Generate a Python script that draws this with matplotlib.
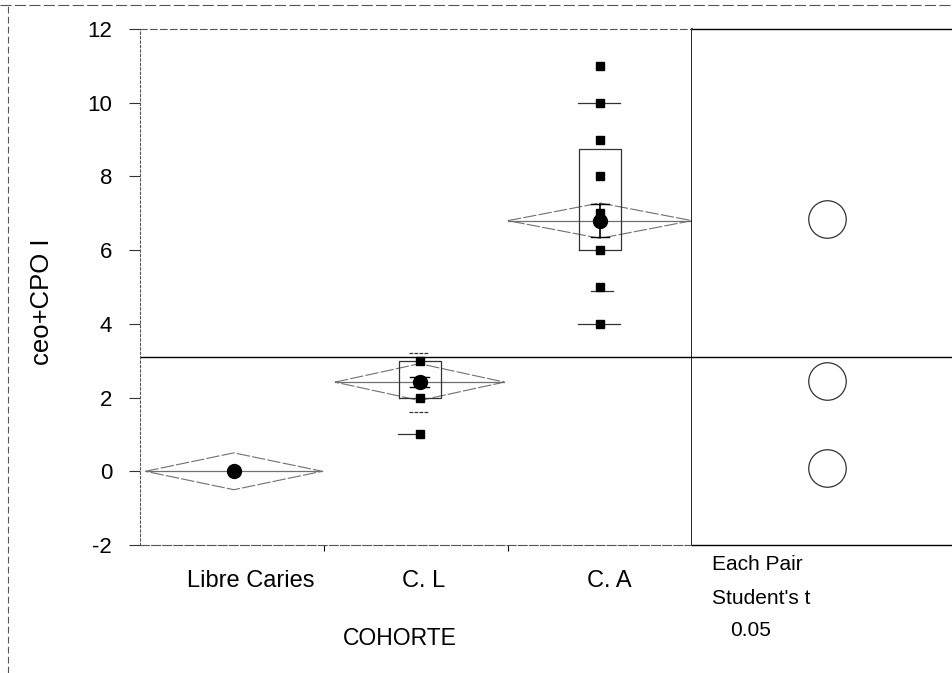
import matplotlib
matplotlib.use("Agg")
import matplotlib.pyplot as plt
from matplotlib.lines import Line2D

plt.rcParams['font.family'] = ['Liberation Sans', 'DejaVu Sans']

# ---- data ----
groups = ["Libre Caries", "C. L", "C. A"]
group_left = [0.03, 1.06, 2.0]      # diamond extents (group width ~ n)
group_right = [0.99, 1.98, 3.0]
means = [0.0, 2.42, 6.8]
ci_half = [0.5, 0.5, 0.48]
se = [0.0, 0.13, 0.45]
sd = [0.0, 0.8, 0.0]
grand_mean = 3.1
points_libre = [0]
points_cl = [1, 2, 3]
points_ca = [4, 5, 6, 7, 8, 9, 10, 11]
box_q1 = [None, 2.0, 6.0]
box_q3 = [None, 3.0, 8.75]
quant_lines_cl = [1]
quant_lines_ca = [4, 10]
short_lines_ca = [5]
yticks = [-2, 0, 2, 4, 6, 8, 10, 12]
label_pos = [0.6, 1.54, 2.55]
circle_y = [6.85, 2.45, 0.1]

fig = plt.figure(figsize=(9.53, 6.73), dpi=100)
W, H = 953, 673
ax = fig.add_axes([140 / W, (H - 545) / H, 552 / W, 516 / H])
ax2 = fig.add_axes([692 / W, (H - 545) / H, 261 / W, 516 / H], sharey=ax)

ax.set_ylim(-2, 12)
ax.set_xlim(0, 3)
ax2.set_xlim(0, 1)

gray = '#707070'
# grand mean line
ax.axhline(grand_mean, color='black', lw=1.0)
ax2.axhline(grand_mean, color='black', lw=1.0)

centers = [(l + r) / 2 for l, r in zip(group_left, group_right)]

# diamonds + mean lines
for i in range(3):
    l, r, m, h = group_left[i], group_right[i], means[i], ci_half[i]
    c = centers[i]
    ax.plot([l, c, r, c, l], [m, m + h, m, m - h, m], color=gray, lw=0.8,
            ls=(0, (12, 2)))
    ax.plot([l, r], [m, m], color=gray, lw=0.9)

# boxes
bw = 0.115
for i in range(3):
    if box_q1[i] is None:
        continue
    c = centers[i]
    ax.plot([c - bw, c + bw, c + bw, c - bw, c - bw],
            [box_q1[i], box_q1[i], box_q3[i], box_q3[i], box_q1[i]],
            color='#333333', lw=0.9)

# quantile lines
ax.plot([centers[1] - 0.12, centers[1]], [quant_lines_cl[0]] * 2, color='#333333', lw=0.9)
for q in quant_lines_ca:
    ax.plot([centers[2] - 0.12, centers[2] + 0.11], [q, q], color='#333333', lw=0.9)
for q in short_lines_ca:
    ax.plot([centers[2] - 0.05, centers[2] + 0.07], [q - 0.12, q - 0.12], color='#333333', lw=0.9)

# sd lines
for i in range(3):
    if sd[i] > 0:
        c = centers[i]
        for s in (-1, 1):
            ax.plot([c - 0.06, c + 0.05], [means[i] + s * sd[i]] * 2, color='#333333', lw=0.9, ls=(0, (3, 1)))

# se error bars
for i in range(3):
    if se[i] > 0:
        c = centers[i]
        ax.plot([c, c], [means[i] - se[i], means[i] + se[i]], color='black', lw=1.2)
        ax.plot([c - 0.05, c + 0.05], [means[i] + se[i]] * 2, color='black', lw=1.0)
        ax.plot([c - 0.05, c + 0.05], [means[i] - se[i]] * 2, color='black', lw=1.0)

# data points
for i, pts in enumerate([points_libre, points_cl, points_ca]):
    ax.plot([centers[i]] * len(pts), pts, 's', color='black', ms=5.5, zorder=5)

# means
ax.plot(centers, means, 'o', color='black', ms=10, zorder=6)

# comparison circles
ax2.plot([0.517] * 3, circle_y, 'o', mfc='none', mec='#333333', mew=0.9, ms=27)

# spines
for s in ('top', 'bottom', 'left'):
    ax.spines[s].set_color('#555555')
    ax.spines[s].set_linewidth(0.8)
ax.spines['top'].set_linestyle((0, (6, 3)))
ax.spines['bottom'].set_linestyle((0, (8, 2)))
ax.spines['left'].set_linestyle((0, (2, 2)))
ax.spines['right'].set_color('black')
ax.spines['right'].set_linewidth(1.2)
ax2.spines['left'].set_visible(False)
ax2.spines['right'].set_visible(False)
ax2.spines['top'].set_linewidth(1.0)
ax2.spines['bottom'].set_linewidth(1.0)

# ticks
ax.set_yticks(yticks)
ax.set_yticklabels([str(v) for v in yticks])
ax.tick_params(axis='y', length=8, width=0.8, pad=12, labelsize=16, color='#333333')
ax.set_xticks(label_pos)
ax.set_xticklabels(groups)
ax.tick_params(axis='x', length=0, pad=18, labelsize=17)
ax.set_xticks([1, 2], minor=True)
ax.tick_params(axis='x', which='minor', length=4, width=0.8)
ax2.tick_params(left=False, labelleft=False, bottom=False, labelbottom=False)

ax.set_ylabel("ceo+CPO I", fontsize=18.5)
ax.yaxis.set_label_coords((54 - 140) / 552, (545 - 302) / 516)
ax.set_xlabel("COHORTE", fontsize=16.5)
ax.xaxis.set_label_coords((400 - 140) / 552, -(627 - 545) / 516)

# right panel text
fig.text(712 / W, 1 - 565 / H, "Each Pair", fontsize=15, va='center', ha='left')
fig.text(712 / W, 1 - 598 / H, "Student's t", fontsize=15, va='center', ha='left')
fig.text(730 / W, 1 - 631 / H, "0.05", fontsize=15, va='center', ha='left')

# outer frame (scan)
fig.add_artist(Line2D([0, 1], [1 - 5 / H, 1 - 5 / H], transform=fig.transFigure,
                      color='#555555', lw=0.8, ls=(0, (10, 3))))
fig.add_artist(Line2D([8 / W, 8 / W], [0, 1 - 5 / H], transform=fig.transFigure,
                      color='#555555', lw=0.8, ls=(0, (6, 3))))

fig.savefig("out.png", dpi=100)
